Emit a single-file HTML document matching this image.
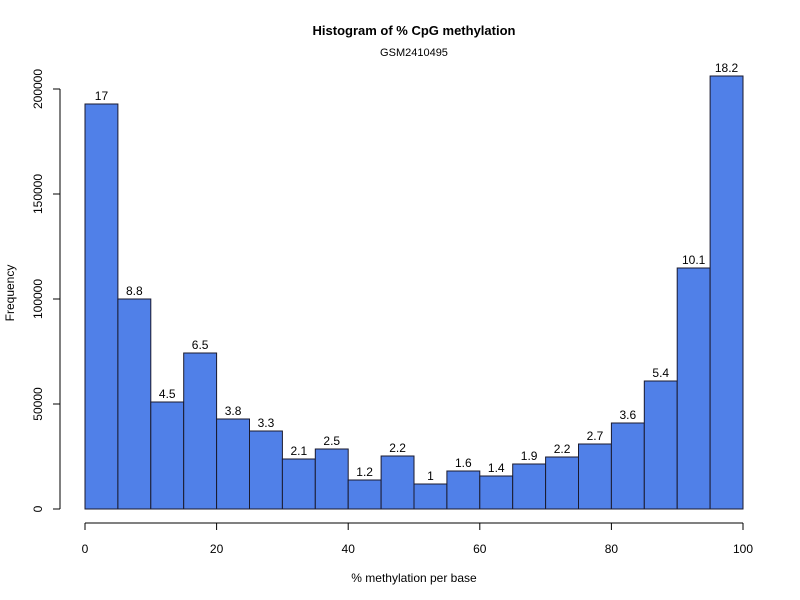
<!DOCTYPE html>
<html><head><meta charset="utf-8"><style>
body{margin:0;background:#fff}
svg{display:block;font-family:"Liberation Sans",Arial,sans-serif}
</style></head><body>
<svg id="chart" width="800" height="600">
<text x="414" y="35" text-anchor="middle" font-size="13" font-weight="bold">Histogram of % CpG methylation</text>
<text x="414" y="56" text-anchor="middle" font-size="11">GSM2410495</text>
<text x="414" y="582" text-anchor="middle" font-size="12">% methylation per base</text>
<text transform="translate(14,293) rotate(-90)" text-anchor="middle" font-size="12">Frequency</text>
<g id="bars"></g><g id="xaxis"></g><g id="yaxis"></g>
</svg>
<script>
const binStarts=[0,5,10,15,20,25,30,35,40,45,50,55,60,65,70,75,80,85,90,95];
const counts=[192857,100000,50952,74286,42857,37143,23810,28571,13810,25238,11905,18095,15714,21429,24762,30952,40952,60952,114762,206190];
const pctLabels=["17","8.8","4.5","6.5","3.8","3.3","2.1","2.5","1.2","2.2","1","1.6","1.4","1.9","2.2","2.7","3.6","5.4","10.1","18.2"];
const xTicks=[0,20,40,60,80,100];
const yTicks=[0,50000,100000,150000,200000];
const binWidth=5;
const NS="http://www.w3.org/2000/svg";
const x=v=>85+v*6.58;
const y=v=>509-v*0.0021;
function mk(tag,attrs,parent,text){const e=document.createElementNS(NS,tag);for(const k in attrs)e.setAttribute(k,attrs[k]);if(text!==undefined)e.textContent=text;parent.appendChild(e);return e;}
const gb=document.getElementById('bars');
binStarts.forEach((b,i)=>{
 const r=mk('rect',{x:x(b),y:y(counts[i]),width:x(b+binWidth)-x(b),height:y(0)-y(counts[i]),fill:'#5080E8',stroke:'#1a1a2e','stroke-width':1},gb);
 
 
 const t=mk('text',{x:(x(b)+x(b+binWidth))/2,y:y(counts[i])-4,'text-anchor':'middle','font-size':12},gb,pctLabels[i]);
 
 
});
const gx=document.getElementById('xaxis');
mk('line',{x1:x(0),x2:x(100),y1:523,y2:523,stroke:'#000'},gx);
xTicks.forEach(v=>{
 mk('line',{x1:x(v),x2:x(v),y1:523,y2:530,stroke:'#000'},gx);
 const t=mk('text',{x:x(v),y:553,'text-anchor':'middle','font-size':12},gx,String(v));
 
 
});
const gy=document.getElementById('yaxis');
mk('line',{x1:60,x2:60,y1:y(0),y2:y(200000),stroke:'#000'},gy);
yTicks.forEach(v=>{
 mk('line',{x1:53,x2:60,y1:y(v),y2:y(v),stroke:'#000'},gy);
 const t=mk('text',{transform:`translate(42,${y(v)}) rotate(-90)`,'text-anchor':'middle','font-size':12},gy,String(v));
 
 
});
</script>
</body></html>
